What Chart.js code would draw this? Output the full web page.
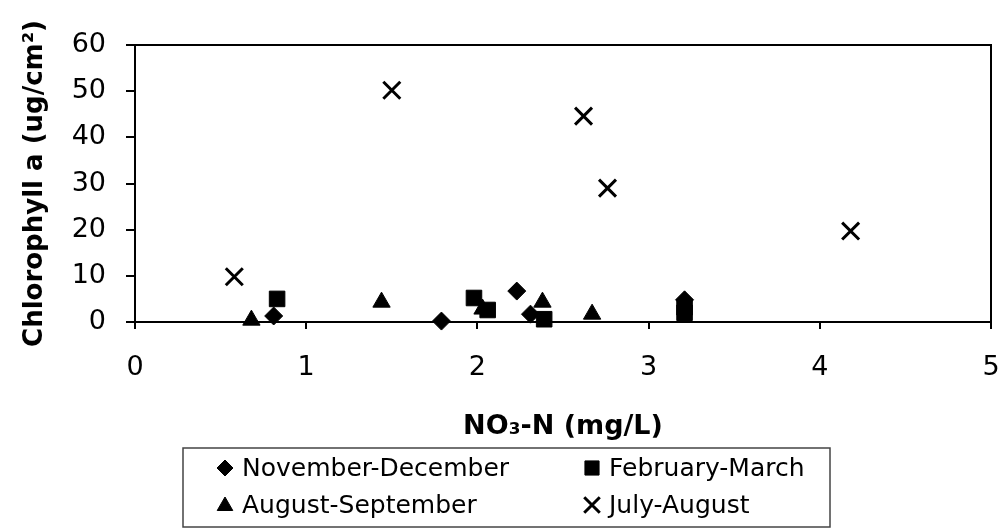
<!DOCTYPE html>
<html>
<head>
<meta charset="utf-8">
<script src="https://cdn.jsdelivr.net/npm/chart.js@4.4.0/dist/chart.umd.min.js"></script>
<style>
  html, body { margin: 0; padding: 0; background: #fff; }
</style>
</head>
<body>
<canvas id="chlChart" width="1006" height="529"></canvas>
<script>
// series (x = NO3-N mg/L, y = chlorophyll a ug/cm2)
const seriesNames = ['November-December', 'February-March', 'August-September', 'July-August'];

const novDecX = [0.81, 1.79, 2.23, 2.31, 3.21];
const novDecY = [1.3, 0.2, 6.7, 1.7, 4.8];

const febMarX = [0.83, 1.98, 2.06, 2.39, 3.21, 3.21];
const febMarY = [5.0, 5.2, 2.6, 0.6, 3.2, 2.0];

const augSepX = [0.68, 1.44, 2.03, 2.38, 2.67];
const augSepY = [0.4, 4.3, 2.8, 4.3, 1.7];

const julAugX = [0.58, 1.50, 2.62, 2.76, 4.18];
const julAugY = [9.8, 50.2, 44.6, 29.0, 19.7];

const xTicks = [0, 1, 2, 3, 4, 5];
const yTicks = [0, 10, 20, 30, 40, 50, 60];

const FONT = "'DejaVu Sans', 'Liberation Sans', sans-serif";

function pts(xs, ys) {
  return xs.map((x, i) => ({ x: x, y: ys[i] }));
}

const markerStyles = [
  { pointStyle: 'rectRot', radius: 9, legendRadius: 8, borderWidth: 1 },
  { pointStyle: 'rect', radius: 11, legendRadius: 10, borderWidth: 1 },
  { pointStyle: 'triangle', radius: 10, legendRadius: 9, borderWidth: 1 },
  { pointStyle: 'crossRot', radius: 12, legendRadius: 11, borderWidth: 3 }
];

const allX = [novDecX, febMarX, augSepX, julAugX];
const allY = [novDecY, febMarY, augSepY, julAugY];

const datasets = seriesNames.map((name, i) => ({
  label: name,
  data: pts(allX[i], allY[i]),
  pointStyle: markerStyles[i].pointStyle,
  pointRadius: markerStyles[i].radius,
  pointHoverRadius: markerStyles[i].radius,
  pointBorderWidth: markerStyles[i].borderWidth,
  backgroundColor: '#000',
  borderColor: '#000',
  clip: false
}));

// full box around the plot area
const frameBox = {
  id: 'frameBox',
  beforeDatasetsDraw(chart) {
    const { ctx, chartArea: a } = chart;
    ctx.save();
    ctx.strokeStyle = '#000';
    ctx.lineWidth = 2;
    ctx.strokeRect(a.left, a.top, a.right - a.left, a.bottom - a.top);
    ctx.restore();
  }
};

// boxed 2x2 legend under the x axis title
const boxLegend = {
  id: 'boxLegend',
  afterDraw(chart) {
    const ctx = chart.ctx;
    const colX = [225, 592];
    const rowY = [468, 505];
    ctx.save();
    ctx.strokeStyle = '#444';
    ctx.lineWidth = 1.5;
    ctx.strokeRect(183, 448, 647, 79);
    ctx.font = '25px ' + FONT;
    ctx.textBaseline = 'middle';
    ctx.textAlign = 'left';
    chart.data.datasets.forEach((ds, i) => {
      const x = colX[i % 2];
      const y = rowY[Math.floor(i / 2)];
      ctx.fillStyle = '#000';
      ctx.strokeStyle = '#000';
      ctx.lineWidth = markerStyles[i].borderWidth;
      Chart.helpers.drawPoint(ctx, {
        pointStyle: markerStyles[i].pointStyle,
        radius: markerStyles[i].legendRadius,
        rotation: 0,
        borderWidth: markerStyles[i].borderWidth
      }, x, y + (i === 2 ? 1 : 0));
      ctx.fillStyle = '#000';
      ctx.fillText(ds.label, x + 17, y + 1);
    });
    ctx.restore();
  }
};

new Chart(document.getElementById('chlChart'), {
  type: 'scatter',
  data: { datasets: datasets },
  options: {
    responsive: false,
    animation: false,
    layout: { padding: { left: 0, top: 45, right: 13, bottom: 82 } },
    plugins: {
      legend: { display: false },
      tooltip: { enabled: false }
    },
    scales: {
      x: {
        type: 'linear',
        min: 0,
        max: 5,
        afterBuildTicks: s => { s.ticks = xTicks.map(v => ({ value: v })); },
        afterFit: s => { s.height = 125; s.paddingLeft = 0; s.paddingRight = 0; },
        border: { display: true, color: '#000', width: 2 },
        grid: { drawOnChartArea: false, drawTicks: true, tickLength: 7, color: '#000', lineWidth: 2 },
        ticks: { color: '#000', padding: 23, font: { family: FONT, size: 27 } },
        title: {
          display: true,
          text: 'NO\u2083-N (mg/L)',
          color: '#000',
          font: { family: FONT, size: 27, weight: 'bold' },
          padding: { top: 0, bottom: 4 }
        }
      },
      y: {
        type: 'linear',
        min: 0,
        max: 60,
        afterBuildTicks: s => { s.ticks = yTicks.map(v => ({ value: v })); },
        afterFit: s => { s.width = 135; s.paddingTop = 0; s.paddingBottom = 0; },
        border: { display: true, color: '#000', width: 2 },
        grid: { drawOnChartArea: false, drawTicks: true, tickLength: 9, color: '#000', lineWidth: 2 },
        ticks: { color: '#000', padding: 20, font: { family: FONT, size: 27 } },
        title: {
          display: true,
          text: 'Chlorophyll a (ug/cm\u00b2)',
          color: '#000',
          font: { family: FONT, size: 26, weight: 'bold' },
          padding: { top: 20, bottom: 0 }
        }
      }
    }
  },
  plugins: [frameBox, boxLegend]
});
</script>
</body>
</html>
